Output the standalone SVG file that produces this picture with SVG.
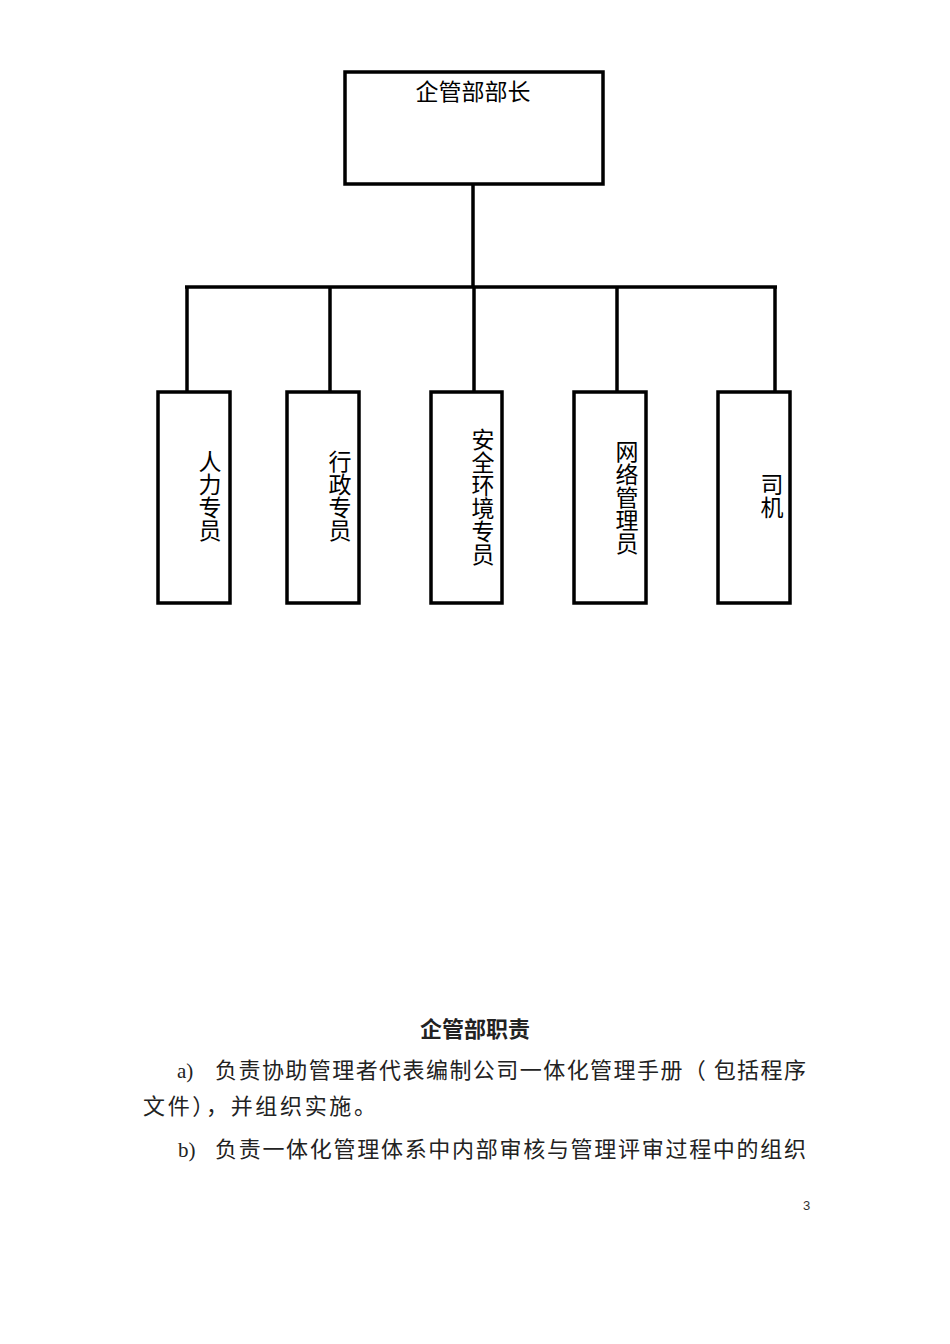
<svg xmlns="http://www.w3.org/2000/svg" width="950" height="1344" viewBox="0 0 950 1344">
<style>
.box{fill:#fff;stroke:#000;stroke-width:3.5}
.ln{stroke:#000;stroke-width:3.5;fill:none}
.t{font-family:"Noto Sans CJK SC","Noto Sans",sans-serif;font-size:23px;fill:#000}
.v{font-family:"Noto Sans CJK SC","Noto Sans",sans-serif;font-size:23px;fill:#000;writing-mode:vertical-rl;text-orientation:upright}
.p{font-family:"Noto Sans CJK SC","Noto Sans",sans-serif;font-size:22px;fill:#222}
.s{font-family:"Liberation Serif",serif;font-size:21px;fill:#222}
</style>
<rect width="950" height="1344" fill="#fff"/>
<g id="connectors">
<line class="ln" x1="473" y1="184" x2="473" y2="287"/>
<line class="ln" x1="185" y1="287" x2="777" y2="287"/>
<line class="ln" x1="187" y1="287" x2="187" y2="392"/>
<line class="ln" x1="330" y1="287" x2="330" y2="392"/>
<line class="ln" x1="474" y1="287" x2="474" y2="392"/>
<line class="ln" x1="617" y1="287" x2="617" y2="392"/>
<line class="ln" x1="775" y1="287" x2="775" y2="392"/>
</g>
<g id="node-head">
<rect class="box" x="345" y="72" width="258" height="112"/>
<text class="t" x="473" y="100" text-anchor="middle">企管部部长</text>
</g>
<g id="node-hr">
<rect class="box" x="158" y="392" width="72" height="211"/>
<text class="v" x="210" y="450">人力专员</text>
</g>
<g id="node-admin">
<rect class="box" x="287" y="392" width="72" height="211"/>
<text class="v" x="340" y="450">行政专员</text>
</g>
<g id="node-safety">
<rect class="box" x="431" y="392" width="71" height="211"/>
<text class="v" x="483" y="428">安全环境专员</text>
</g>
<g id="node-network">
<rect class="box" x="574" y="392" width="72" height="211"/>
<text class="v" x="627" y="440">网络管理员</text>
</g>
<g id="node-driver">
<rect class="box" x="718" y="392" width="72" height="211"/>
<text class="v" x="772" y="473">司机</text>
</g>
<g id="body-text">
<text class="p" x="475" y="1037" text-anchor="middle" font-weight="bold">企管部职责</text>
<text class="s" x="177" y="1078">a)</text>
<text class="p" x="215" y="1078" textLength="591" lengthAdjust="spacing">负责协助管理者代表编制公司一体化管理手册（ 包括程序</text>
<text class="p" x="143" y="1114" textLength="233" lengthAdjust="spacing">文件），并组织实施。</text>
<text class="s" x="178" y="1157">b)</text>
<text class="p" x="215" y="1157" textLength="591" lengthAdjust="spacing">负责一体化管理体系中内部审核与管理评审过程中的组织</text>
<text x="803" y="1210" font-family="Liberation Sans,sans-serif" font-size="13" fill="#333">3</text>
</g>
</svg>
